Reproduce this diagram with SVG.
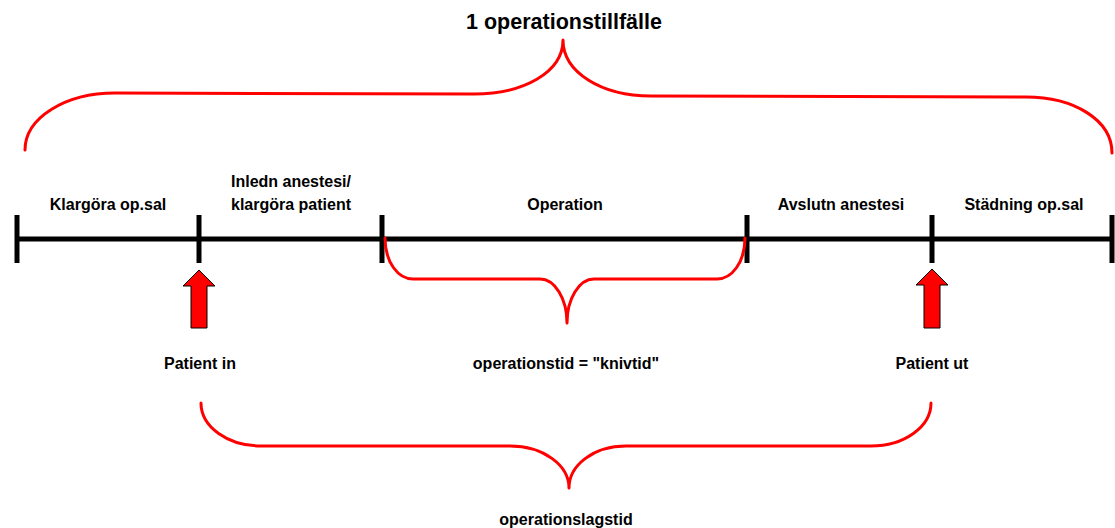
<svg xmlns="http://www.w3.org/2000/svg" width="1115" height="528" viewBox="0 0 1115 528">
<style>
  text { font-family: "Liberation Sans", Arial, sans-serif; font-weight: bold; fill: #000; text-anchor: middle; }
  .lbl { font-size: 16px; }
  .title { font-size: 21.5px; }
  .brace { fill: none; stroke: #FF0000; stroke-width: 3; stroke-linecap: round; stroke-linejoin: round; }
  .axis { stroke: #000; stroke-width: 5; fill: none; }
  .tick { stroke: #000; stroke-width: 5; }
  .arrow { fill: #FF0000; stroke: #000; stroke-width: 1; }
</style>
<rect width="1115" height="528" fill="#fff"/>

<g id="timeline">
  <line class="axis" x1="15" y1="239" x2="1113" y2="239"/>
  <line class="tick" x1="17" y1="215" x2="17" y2="263"/>
  <line class="tick" x1="199" y1="215" x2="199" y2="263"/>
  <line class="tick" x1="382" y1="215" x2="382" y2="263"/>
  <line class="tick" x1="747" y1="215" x2="747" y2="263"/>
  <line class="tick" x1="932" y1="215" x2="932" y2="263"/>
  <line class="tick" x1="1112" y1="215" x2="1112" y2="263"/>
</g>

<g id="title"><text class="title" x="564" y="29">1 operationstillfälle</text></g>

<g id="phase-klargora"><text class="lbl" x="108" y="210">Klargöra op.sal</text></g>
<g id="phase-inledn">
  <text class="lbl" x="291" y="187">Inledn anestesi/</text>
  <text class="lbl" x="291" y="210">klargöra patient</text>
</g>
<g id="phase-operation"><text class="lbl" x="565" y="210">Operation</text></g>
<g id="phase-avslutn"><text class="lbl" x="841" y="210">Avslutn anestesi</text></g>
<g id="phase-stadning"><text class="lbl" x="1024" y="210">Städning op.sal</text></g>

<g id="braces">
  <path class="brace" d="M25,150 C25,118 65,93 115,93 L474,94 C524,94 563,72 563,40 C563,72 601,96 651,96 L1026,97 C1074,97 1112,120 1112,153"/>
  <path class="brace" d="M385,238 C385,262 398,279 413,279 L540,279 C555,279 567,299 567,323 C567,299 579,279 594,279 L717,279 C732,279 745,262 745,238"/>
  <path class="brace" d="M201,403 C201,427 228,446 261,446 L510,446 C543,446 569,465 569,488 C569,465 594,446 626,446 L871,446 C904,446 931,427 931,403"/>
</g>

<g id="arrow-in">
  <polygon class="arrow" points="199,270 215,286 207,286 207,328 191,328 191,286 183,286"/>
  <text class="lbl" x="200" y="369">Patient in</text>
</g>
<g id="arrow-ut">
  <polygon class="arrow" points="932,269 948,285 940,285 940,328 924,328 924,285 916,285"/>
  <text class="lbl" x="932" y="369">Patient ut</text>
</g>

<g id="label-operationstid"><text class="lbl" x="566" y="369">operationstid = "knivtid"</text></g>
<g id="label-operationslagstid"><text class="lbl" x="566" y="525">operationslagstid</text></g>
</svg>
